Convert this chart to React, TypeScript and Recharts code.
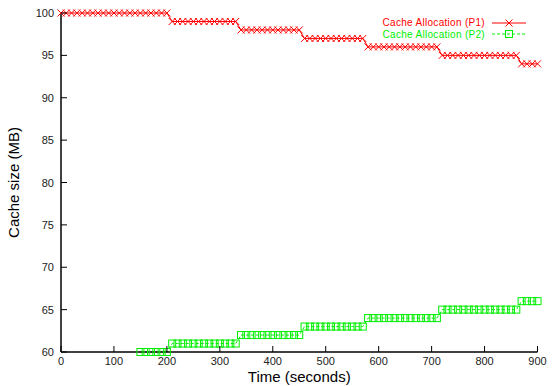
import React from 'react'
import { LineChart, Line, XAxis, YAxis, Legend, Label } from 'recharts'

// sample times, every 10 s
const time = [
  0, 10, 20, 30, 40, 50, 60, 70, 80, 90,
  100, 110, 120, 130, 140, 150, 160, 170, 180, 190,
  200, 210, 220, 230, 240, 250, 260, 270, 280, 290,
  300, 310, 320, 330, 340, 350, 360, 370, 380, 390,
  400, 410, 420, 430, 440, 450, 460, 470, 480, 490,
  500, 510, 520, 530, 540, 550, 560, 570, 580, 590,
  600, 610, 620, 630, 640, 650, 660, 670, 680, 690,
  700, 710, 720, 730, 740, 750, 760, 770, 780, 790,
  800, 810, 820, 830, 840, 850, 860, 870, 880, 890,
  900
]

const p1Alloc = [
  100, 100, 100, 100, 100, 100, 100, 100, 100, 100,
  100, 100, 100, 100, 100, 100, 100, 100, 100, 100,
  100, 99, 99, 99, 99, 99, 99, 99, 99, 99,
  99, 99, 99, 99, 98, 98, 98, 98, 98, 98,
  98, 98, 98, 98, 98, 98, 97, 97, 97, 97,
  97, 97, 97, 97, 97, 97, 97, 97, 96, 96,
  96, 96, 96, 96, 96, 96, 96, 96, 96, 96,
  96, 96, 95, 95, 95, 95, 95, 95, 95, 95,
  95, 95, 95, 95, 95, 95, 95, 94, 94, 94,
  94
]

const p2Alloc = [
  null, null, null, null, null, null, null, null, null, null,
  null, null, null, null, null, 60, 60, 60, 60, 60,
  60, 61, 61, 61, 61, 61, 61, 61, 61, 61,
  61, 61, 61, 61, 62, 62, 62, 62, 62, 62,
  62, 62, 62, 62, 62, 62, 63, 63, 63, 63,
  63, 63, 63, 63, 63, 63, 63, 63, 64, 64,
  64, 64, 64, 64, 64, 64, 64, 64, 64, 64,
  64, 64, 65, 65, 65, 65, 65, 65, 65, 65,
  65, 65, 65, 65, 65, 65, 65, 66, 66, 66,
  66
]

const xTicks = [0, 100, 200, 300, 400, 500, 600, 700, 800, 900]
const yTicks = [60, 65, 70, 75, 80, 85, 90, 95, 100]

const data = time.map((t, i) => ({ t, p1: p1Alloc[i], p2: p2Alloc[i] }))

const FONT = '"Liberation Sans", Arial, Helvetica, sans-serif'
const RED = '#ff0000'
const GREEN = '#00ee00'
const TICK = 6

const BottomTick = ({ x, y, payload }: any) => (
  <g>
    <line x1={x} y1={y} x2={x} y2={y - TICK} stroke="#000" />
    <text x={x} y={y + 13} textAnchor="middle" fontSize={11} fontFamily={FONT} fill="#222">{payload.value}</text>
  </g>
)
const TopTick = ({ x, y }: any) => <line x1={x} y1={y} x2={x} y2={y + TICK} stroke="#000" />
const LeftTick = ({ x, y, payload }: any) => (
  <g>
    <line x1={x} y1={y} x2={x + TICK} y2={y} stroke="#000" />
    <text x={x - 7} y={y + 4} textAnchor="end" fontSize={11} fontFamily={FONT} fill="#222">{payload.value}</text>
  </g>
)
const RightTick = ({ x, y }: any) => <line x1={x} y1={y} x2={x - TICK} y2={y} stroke="#000" />

const crossPath = (cx: number, cy: number) =>
  `M${cx - 3.5},${cy - 3.5}L${cx + 3.5},${cy + 3.5}M${cx - 3.5},${cy + 3.5}L${cx + 3.5},${cy - 3.5}`

const CrossDot = ({ cx, cy, index }: any) =>
  cx == null || cy == null ? <g key={index} /> : <path key={index} d={crossPath(cx, cy)} stroke={RED} fill="none" />

const SquareDot = ({ cx, cy, index }: any) =>
  cx == null || cy == null ? <g key={index} /> : <rect key={index} x={cx - 3.5} y={cy - 3.5} width={7} height={7} stroke={GREEN} fill="none" />

const LegendBox = () => (
  <svg width={552} height={50} style={{ display: 'block' }}>
    <g fontFamily={FONT} fontSize={10} letterSpacing={0.3}>
      <text x={485} y={26.3} textAnchor="end" fill={RED}>Cache Allocation (P1)</text>
      <line x1={492} y1={23} x2={526} y2={23} stroke={RED} />
      <path d={crossPath(509, 23)} stroke={RED} fill="none" />
      <text x={485} y={37.5} textAnchor="end" fill={GREEN}>Cache Allocation (P2)</text>
      <line x1={492} y1={34} x2={526} y2={34} stroke={GREEN} strokeDasharray="3 2" />
      <rect x={505.5} y={30.5} width={7} height={7} stroke={GREEN} fill="none" />
    </g>
  </svg>
)

export default function App() {
  const axisLine = { stroke: '#000', strokeWidth: 1.5 }
  return (
    <div style={{ position: 'absolute', left: 0, top: 0, width: 552, height: 386, background: '#fff' }}>
      <LineChart width={552} height={386} data={data} margin={{ top: 13, right: 14.5, left: 0, bottom: 0 }}>
        <XAxis dataKey="t" type="number" domain={[0, 900]} ticks={xTicks} interval={0} height={34}
          tickSize={0} tickMargin={0} tickLine={false} axisLine={axisLine} tick={(p: any) => <BottomTick {...p} />}>
          <Label content={({ viewBox }: any) => (
            <text x={viewBox.x + viewBox.width / 2} y={382} textAnchor="middle" fontSize={15} fontFamily={FONT} fill="#000">Time (seconds)</text>
          )} />
        </XAxis>
        <XAxis xAxisId="top" orientation="top" type="number" domain={[0, 900]} ticks={xTicks} interval={0} height={0}
          tickSize={0} tickMargin={0} tickLine={false} axisLine={axisLine} tick={(p: any) => <TopTick {...p} />} />
        <YAxis type="number" domain={[60, 100]} ticks={yTicks} interval={0} width={61}
          tickSize={0} tickMargin={0} tickLine={false} axisLine={axisLine} tick={(p: any) => <LeftTick {...p} />}>
          <Label content={({ viewBox }: any) => {
            const cy = viewBox.y + viewBox.height / 2
            return (
              <text x={19} y={cy} transform={`rotate(-90 19 ${cy})`} textAnchor="middle" fontSize={15} fontFamily={FONT} fill="#000">Cache size (MB)</text>
            )
          }} />
        </YAxis>
        <YAxis yAxisId="right" orientation="right" type="number" domain={[60, 100]} ticks={yTicks} interval={0} width={0}
          tickSize={0} tickMargin={0} tickLine={false} axisLine={axisLine} tick={(p: any) => <RightTick {...p} />} />
        <Legend layout="horizontal" verticalAlign="middle" align="center" wrapperStyle={{ top: 0, left: 0, width: 552, height: 50 }}
          content={() => <LegendBox />} />
        <Line dataKey="p1" stroke={RED} strokeWidth={1} dot={(p: any) => <CrossDot {...p} />} isAnimationActive={false} />
        <Line dataKey="p2" stroke={GREEN} strokeWidth={1} strokeDasharray="3 2" dot={(p: any) => <SquareDot {...p} />}
          connectNulls={false} isAnimationActive={false} />
      </LineChart>
    </div>
  )
}
